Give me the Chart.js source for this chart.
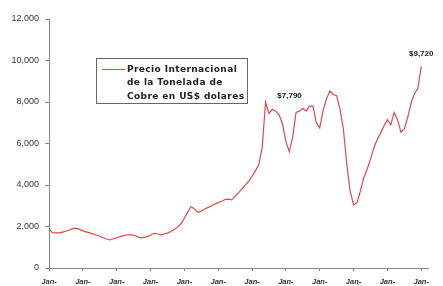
<!DOCTYPE html>
<html>
<head>
<meta charset="utf-8">
<script src="https://cdn.jsdelivr.net/npm/chart.js@4/dist/chart.umd.min.js"></script>
<style>
  html, body { margin: 0; padding: 0; background: #fff; }
  #wrap { width: 443px; height: 286px; position: relative; }
</style>
</head>
<body>
<div id="wrap"><canvas id="c"></canvas></div>
<script>
// copper price, US$ per tonne
const prices = [
  1880, 1700, 1690, 1690, 1730, 1770, 1830, 1900, 1920, 1860,
  1790, 1740, 1690, 1640, 1590, 1530, 1460, 1400, 1350, 1410,
  1460, 1510, 1560, 1590, 1600, 1590, 1520, 1450, 1480, 1510,
  1580, 1670, 1650, 1600, 1640, 1680, 1760, 1860, 1970, 2130,
  2400, 2700, 2960, 2850, 2680, 2740, 2840, 2920, 2990, 3080,
  3150, 3220, 3300, 3320, 3280, 3450, 3620, 3810, 3990, 4180,
  4420, 4680, 4990, 5800, 8000, 7450, 7650, 7560, 7380, 6950,
  6100, 5600, 6300, 7500, 7550, 7700, 7560, 7800, 7800, 7000,
  6750, 7600, 8150, 8530, 8360, 8300, 7650, 6700, 5000, 3700,
  3050, 3150, 3700, 4340, 4750, 5250, 5780, 6200, 6500, 6850,
  7150, 6900, 7500, 7150, 6550, 6700, 7250, 7950, 8400, 8650,
  9720
];
const tickLabels = ['Jan-', 'Jan-', 'Jan-', 'Jan-', 'Jan-', 'Jan-', 'Jan-', 'Jan-', 'Jan-', 'Jan-', 'Jan-', 'Jan-'];
const tickEvery = 10;
const axisLength = 113;
const legendLines = ['Precio Internacional', 'de la Tonelada de', 'Cobre en US$ dolares'];
const callouts = [
  { index: 64, text: '$7,790', dx: 24, dy: -6 },
  { index: 110, text: '$9,720', dx: 0, dy: -13 }
];

const labels = Array.from({ length: axisLength }, (_, i) =>
  i % tickEvery === 0 ? (tickLabels[i / tickEvery] || '') : '');

const lineColor = '#e04848';

const extras = {
  id: 'extras',
  afterDraw(chart) {
    const ctx = chart.ctx;
    ctx.save();
    // legend box
    ctx.strokeStyle = '#666';
    ctx.lineWidth = 1;
    ctx.strokeRect(96.5, 58.5, 151, 45);
    ctx.strokeStyle = lineColor;
    ctx.beginPath();
    ctx.moveTo(102, 69.5);
    ctx.lineTo(125, 69.5);
    ctx.stroke();
    ctx.fillStyle = '#222';
    ctx.font = 'bold 9px "DejaVu Sans", Verdana, sans-serif';
    ctx.letterSpacing = '0.4px';
    ctx.textBaseline = 'middle';
    ctx.textAlign = 'left';
    legendLines.forEach((t, i) => ctx.fillText(t, 127, 69.5 + i * 13.5));
    ctx.letterSpacing = '0px';
    // value call-outs
    const meta = chart.getDatasetMeta(0);
    ctx.font = 'bold 8px "Liberation Sans", Arial, sans-serif';
    ctx.textAlign = 'center';
    callouts.forEach(c => {
      const p = meta.data[c.index];
      ctx.fillText(c.text, p.x + c.dx, p.y + c.dy);
    });
    ctx.restore();
  }
};

new Chart(document.getElementById('c'), {
  type: 'line',
  data: {
    labels: labels,
    datasets: [{
      data: prices,
      borderColor: lineColor,
      borderWidth: 1.2,
      pointRadius: 0,
      tension: 0,
      fill: false
    }]
  },
  options: {
    responsive: true,
    maintainAspectRatio: false,
    animation: false,
    events: [],
    layout: { padding: { top: 19, right: 15, left: 0, bottom: 0 } },
    plugins: { legend: { display: false }, tooltip: { enabled: false } },
    scales: {
      x: {
        offset: false,
        border: { color: '#888', width: 1 },
        grid: { drawOnChartArea: false, drawTicks: true, tickLength: 3, color: '#888' },
        ticks: {
          autoSkip: false,
          maxRotation: 0,
          padding: 6,
          color: '#333',
          font: { family: '"Liberation Sans", Arial, sans-serif', size: 7.5, style: 'italic', weight: 'bold' },
          callback: function (v, i) {
            const l = labels[i];
            return l === '' ? null : l;
          }
        },
        afterFit: function (s) { s.height = 18; }
      },
      y: {
        min: 0,
        max: 12000,
        border: { color: '#888', width: 1 },
        grid: { drawOnChartArea: false, drawTicks: true, tickLength: 4, color: '#888' },
        ticks: {
          stepSize: 2000,
          padding: 6,
          color: '#333',
          font: { family: '"Liberation Sans", Arial, sans-serif', size: 9 },
          callback: v => v.toLocaleString('en-US')
        },
        afterFit: function (s) { s.width = 49; }
      }
    }
  },
  plugins: [extras]
});
</script>
</body>
</html>
